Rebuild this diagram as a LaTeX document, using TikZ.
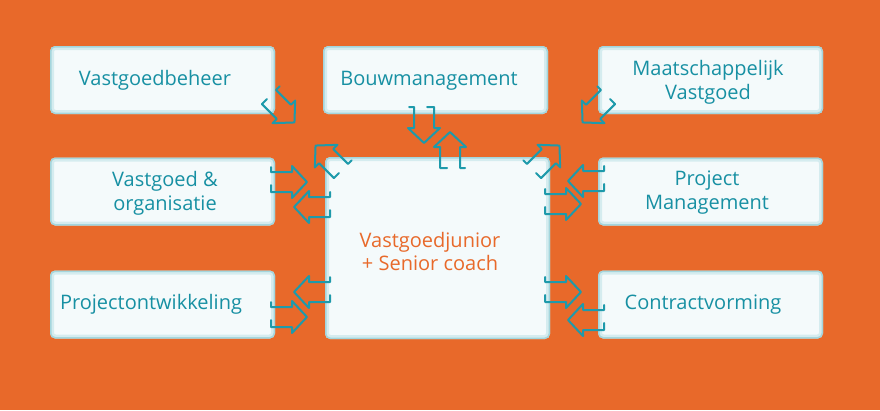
\documentclass[tikz,border=0pt]{standalone}
\usepackage{fontspec}
\setmainfont{Open Sans}
\usetikzlibrary{calc}
\definecolor{bgorange}{HTML}{E8692A}
\definecolor{boxfill}{HTML}{F4FAFB}
\definecolor{glow}{HTML}{7CC4CF}
\definecolor{tealtext}{HTML}{1790A3}
\definecolor{tealline}{HTML}{1E9AAB}
\newcommand\blockarr[3]{%
  \draw[arrowline] ($(#1)+15*(#3)$) -- ($(#1)+10*(#3)$) -- ($(#1)+21*(#2)+10*(#3)$)
    -- ($(#1)+21*(#2)+16*(#3)$) -- ($(#1)+36*(#2)$) -- ($(#1)+21*(#2)-16*(#3)$)
    -- ($(#1)+21*(#2)-10*(#3)$) -- ($(#1)-10*(#3)$) -- ($(#1)-3*(#3)$);}
\begin{document}
\begin{tikzpicture}[x=1pt,y=-1pt,
  box/.style={rounded corners=5pt, fill=boxfill, minimum width=225pt, inner sep=0pt,
    path picture={
      \draw[glow, line width=8pt, opacity=0.25, rounded corners=5pt]
        (path picture bounding box.south west) rectangle (path picture bounding box.north east);
      \draw[glow, line width=3pt, opacity=0.55, rounded corners=5pt]
        (path picture bounding box.south west) rectangle (path picture bounding box.north east);}},
  smallbox/.style={box, minimum height=68pt},
  lbl/.style={text=tealtext, font=\fontsize{20}{23.5}\selectfont, align=center, inner sep=0pt},
  clbl/.style={lbl, text=bgorange},
  arrowline/.style={draw=tealline, line width=2pt, line join=round, line cap=round}]
\fill[bgorange] (0,0) rectangle (880,410);
\useasboundingbox (0,0) rectangle (880,410);
% boxes
\node[smallbox] (vb) at (162.5,80) {};
\node[smallbox] (bm) at (435.5,80) {};
\node[smallbox] (mv) at (710.5,80) {};
\node[smallbox] (vo) at (162.5,191.5) {};
\node[smallbox] (pm) at (710.5,191.5) {};
\node[smallbox] (po) at (162.5,304.5) {};
\node[smallbox] (cv) at (710.5,304.5) {};
\node[box, minimum height=182pt] (ce) at (437.5,248) {};
% labels
\node[lbl] (vbt) at (155,80.5) {Vastgoedbeheer};
\node[lbl] (bmt) at (429,80.5) {Bouwmanagement};
\node[lbl] (mvt) at (708,82.5) {Maatschappelijk\\Vastgoed};
\node[lbl] (vot) at (165,193.5) {Vastgoed \&\\organisatie};
\node[lbl] (pmt) at (707,192.5) {Project\\Management};
\node[lbl] (pot) at (151,304.5) {Projectontwikkeling};
\node[lbl] (cvt) at (703,304.5) {Contractvorming};
\node[clbl] (cet) at (430,251.5) {Vastgoedjunior\\+ Senior coach};
% arrow tails
\coordinate (a1) at (269,97);
\coordinate (a2) at (341,171);
\coordinate (a3) at (608,97);
\coordinate (a4) at (534,171);
\coordinate (d1) at (424,107);
\coordinate (u1) at (450,168);
\coordinate (l2r) at (271,182);
\coordinate (l2l) at (330,207);
\coordinate (l3l) at (330,292);
\coordinate (l3r) at (271,317);
\coordinate (r2l) at (604,181);
\coordinate (r2r) at (545,204);
\coordinate (r3r) at (545,292);
\coordinate (r3l) at (604,320);
% arrows
\blockarr{a1}{0.7071,0.7071}{0.7071,-0.7071}
\blockarr{a2}{-0.7071,-0.7071}{0.7071,-0.7071}
\blockarr{a3}{-0.7071,0.7071}{-0.7071,-0.7071}
\blockarr{a4}{0.7071,-0.7071}{-0.7071,-0.7071}
\blockarr{d1}{0,1}{-1,0}
\blockarr{u1}{0,-1}{1,0}
\blockarr{l2r}{1,0}{0,-1}
\blockarr{l2l}{-1,0}{0,-1}
\blockarr{l3l}{-1,0}{0,-1}
\blockarr{l3r}{1,0}{0,-1}
\blockarr{r2l}{-1,0}{0,-1}
\blockarr{r2r}{1,0}{0,-1}
\blockarr{r3r}{1,0}{0,-1}
\blockarr{r3l}{-1,0}{0,-1}
\end{tikzpicture}
\end{document}
